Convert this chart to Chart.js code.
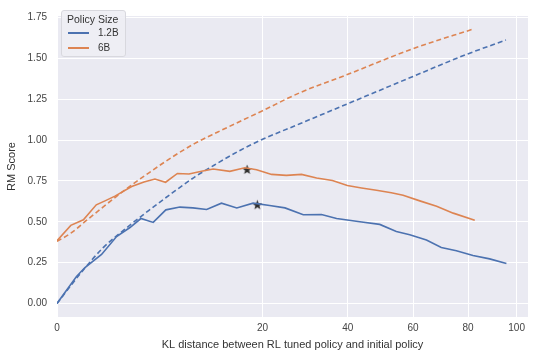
<!DOCTYPE html>
<html>
<head>
<meta charset="utf-8">
<script src="https://cdn.jsdelivr.net/npm/chart.js@4.4.1/dist/chart.umd.min.js"></script>
<style>
  body { margin: 0; background: #fff; }
  #wrap { position: relative; width: 534px; height: 354px; }
  #legend {
    position: absolute; left: 61px; top: 10px; width: 65px; height: 47px;
    background: rgba(238, 238, 244, 0.9); border: 1px solid #d8d8de; border-radius: 3px;
    font-family: "Liberation Sans", Arial, sans-serif; color: #333; box-sizing: border-box;
  }
  #legend .title { position: absolute; left: 5px; top: 2px; font-size: 10.5px; }
  #legend .item { position: absolute; left: 6px; font-size: 10px; height: 12px; line-height: 12px; }
  #legend .item span.ln { position: absolute; left: 0; top: 5px; width: 21px; height: 1.6px; }
  #legend .item span.tx { position: absolute; left: 30px; top: 0; white-space: nowrap; }
</style>
</head>
<body>
<div id="wrap">
  <canvas id="chart" width="534" height="354"></canvas>
  <div id="legend">
    <div class="title">Policy Size</div>
    <div class="item" style="top:16px"><span class="ln" style="background:#4C72B0"></span><span class="tx">1.2B</span></div>
    <div class="item" style="top:31px"><span class="ln" style="background:#DD8452"></span><span class="tx">6B</span></div>
  </div>
</div>
<script>
// KL distance ticks (sqrt scale) and RM score ticks
const klTicks = [0, 20, 40, 60, 80, 100];
const rmTicks = [0, 0.25, 0.5, 0.75, 1.0, 1.25, 1.5, 1.75];

// 1.2B policy, proxy RM score (solid)
const klSmall = [0, 0.18, 0.37, 0.94, 1.68, 2.52, 3.33, 4.38, 5.61, 7.15, 8.74, 10.6, 12.8, 15.3, 18.2, 21.4, 24.6, 28.7, 33.1, 37.0, 43.4, 49.3, 54.5, 58.9, 64.6, 69.9, 75.5, 81.9, 88.6, 95.6];
const rmSmall = [0.0, 0.165, 0.22, 0.30, 0.41, 0.465, 0.52, 0.496, 0.573, 0.59, 0.585, 0.575, 0.614, 0.585, 0.614, 0.60, 0.585, 0.543, 0.545, 0.52, 0.50, 0.484, 0.441, 0.421, 0.388, 0.343, 0.323, 0.294, 0.273, 0.244];

// 6B policy, proxy RM score (solid)
const klLarge = [0, 0.09, 0.33, 0.73, 1.09, 1.59, 2.64, 3.58, 4.54, 5.58, 6.86, 8.24, 9.89, 11.55, 14.14, 16.7, 18.86, 21.8, 24.9, 28.3, 31.9, 35.9, 39.9, 43.9, 48.3, 52.9, 56.7, 62.3, 68.2, 74.3, 82.6];
const rmLarge = [0.384, 0.478, 0.512, 0.604, 0.628, 0.657, 0.716, 0.744, 0.762, 0.742, 0.796, 0.793, 0.809, 0.823, 0.809, 0.831, 0.819, 0.79, 0.784, 0.79, 0.768, 0.753, 0.722, 0.707, 0.693, 0.678, 0.663, 0.628, 0.595, 0.553, 0.51];

// dashed curves
const klDashSmall = [0, 0.25, 1.0, 2.25, 4.0, 6.25, 9.0, 12.25, 16, 20, 27.9, 39.7, 60, 79.4, 95.4];
const rmDashSmall = [0.0, 0.18, 0.34, 0.46, 0.57, 0.675, 0.775, 0.86, 0.94, 1.005, 1.10, 1.22, 1.39, 1.525, 1.613];
const klDashLarge = [0, 0.09, 0.42, 1.0, 2.25, 4.0, 6.25, 9.0, 12.25, 16, 20, 27.9, 39.7, 60, 82];
const rmDashLarge = [0.38, 0.43, 0.51, 0.59, 0.70, 0.80, 0.895, 0.98, 1.05, 1.117, 1.18, 1.29, 1.40, 1.56, 1.68];

// star markers
const klStars = [19.0, 17.1];
const rmStars = [0.604, 0.82];

const blue = '#4C72B0';
const orange = '#DD8452';

const pts = (xs, ys) => xs.map((x, i) => ({ x: x, y: ys[i] }));

class SqrtScale extends Chart.LinearScale {
  getPixelForValue(value) {
    const lo = Math.sqrt(this.min), hi = Math.sqrt(this.max);
    return this.getPixelForDecimal((Math.sqrt(Math.max(value, 0)) - lo) / (hi - lo));
  }
  getValueForPixel(pixel) {
    const lo = Math.sqrt(this.min), hi = Math.sqrt(this.max);
    const s = lo + this.getDecimalForPixel(pixel) * (hi - lo);
    return s * s;
  }
}
SqrtScale.id = 'sqrt';
SqrtScale.defaults = Chart.LinearScale.defaults;
Chart.register(SqrtScale);

// filled 5-point star like matplotlib '*'
const star = document.createElement('canvas');
star.width = 11; star.height = 11;
(function () {
  const c = star.getContext('2d');
  c.beginPath();
  for (let i = 0; i < 10; i++) {
    const r = i % 2 === 0 ? 5.2 : 2.1;
    const a = -Math.PI / 2 + i * Math.PI / 5;
    const px = 5.5 + r * Math.cos(a), py = 5.8 + r * Math.sin(a);
    if (i === 0) c.moveTo(px, py); else c.lineTo(px, py);
  }
  c.closePath();
  c.fillStyle = '#2e2e2e';
  c.fill();
})();

const plotBg = {
  id: 'plotBg',
  beforeDraw(chart) {
    const a = chart.chartArea, ctx = chart.ctx;
    ctx.save();
    ctx.fillStyle = '#EAEAF2';
    ctx.fillRect(a.left, a.top, a.right - a.left, a.bottom - a.top);
    ctx.restore();
  }
};

const font = { family: '"Liberation Sans", Arial, sans-serif', size: 10 };

new Chart(document.getElementById('chart').getContext('2d'), {
  type: 'line',
  data: {
    datasets: [
      { label: '1.2B', data: pts(klSmall, rmSmall), borderColor: blue, borderWidth: 1.6, pointRadius: 0, fill: false },
      { label: '6B', data: pts(klLarge, rmLarge), borderColor: orange, borderWidth: 1.6, pointRadius: 0, fill: false },
      { label: '1.2B gold', data: pts(klDashSmall, rmDashSmall), borderColor: blue, borderWidth: 1.6, borderDash: [5, 3], pointRadius: 0, fill: false, cubicInterpolationMode: 'monotone' },
      { label: '6B gold', data: pts(klDashLarge, rmDashLarge), borderColor: orange, borderWidth: 1.6, borderDash: [5, 3], pointRadius: 0, fill: false, cubicInterpolationMode: 'monotone' },
      { label: 'best', data: pts(klStars, rmStars), showLine: false, pointStyle: star, pointRadius: 5 }
    ]
  },
  options: {
    responsive: false,
    animation: false,
    devicePixelRatio: 1,
    layout: { padding: { top: 5, right: 6, left: 0, bottom: 0 } },
    plugins: { legend: { display: false }, tooltip: { enabled: false } },
    scales: {
      x: {
        type: 'sqrt',
        min: 0,
        max: 105,
        afterBuildTicks: s => { s.ticks = klTicks.map(v => ({ value: v })); },
        afterFit: s => { s.height = 37; },
        grid: { color: '#ffffff', lineWidth: 1, drawTicks: false },
        border: { display: false },
        ticks: { font: font, color: '#444', padding: 5, maxRotation: 0, callback: v => String(v) },
        title: { display: true, text: 'KL distance between RL tuned policy and initial policy', font: { family: font.family, size: 11 }, color: '#333', padding: { top: 0, bottom: 2 } }
      },
      y: {
        min: -0.083,
        max: 1.76,
        afterBuildTicks: s => { s.ticks = rmTicks.map(v => ({ value: v })); },
        afterFit: s => { s.width = 57; },
        grid: { color: '#ffffff', lineWidth: 1, drawTicks: false },
        border: { display: false },
        ticks: { font: font, color: '#444', padding: 10, callback: v => v.toFixed(2) },
        title: { display: true, text: 'RM Score', font: { family: font.family, size: 11 }, color: '#333', padding: { top: 5, bottom: 0 } }
      }
    }
  },
  plugins: [plotBg]
});
</script>
</body>
</html>
